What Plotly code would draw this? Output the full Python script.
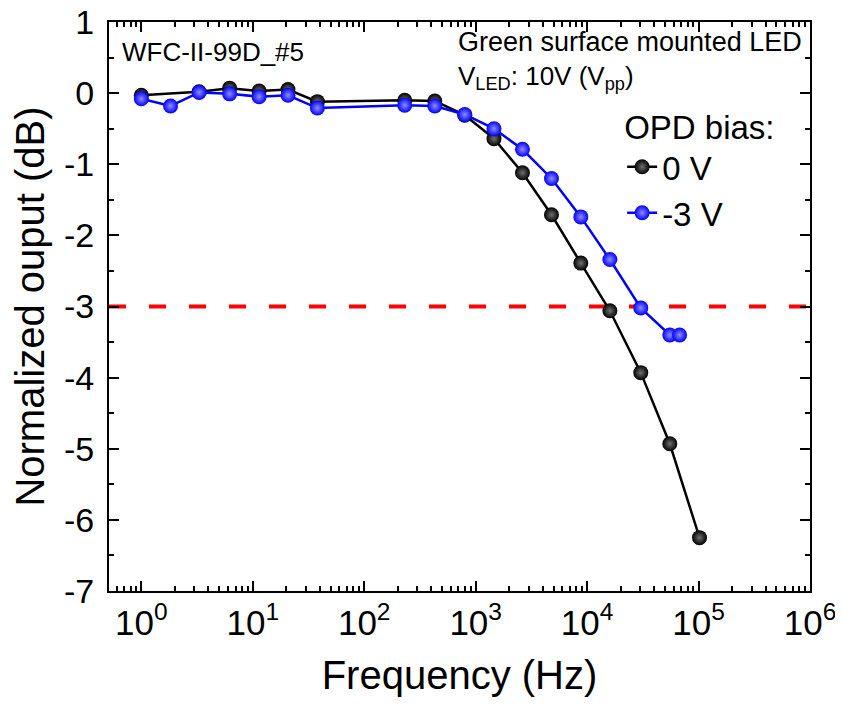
import plotly.graph_objects as go

# ---- data ----
freq_0V = [1.0, 3.3, 6.2, 11.4, 20.7, 38, 231, 430, 798, 1460, 2630, 4790, 8780, 16000, 30300, 55200, 102000]
out_0V = [-0.03, 0.02, 0.07, 0.03, 0.05, -0.12, -0.10, -0.11, -0.31, -0.64, -1.12, -1.71, -2.39, -3.06, -3.93, -4.93, -6.25]

freq_m3V = [1.0, 1.83, 3.3, 6.2, 11.4, 20.7, 38, 231, 430, 798, 1460, 2630, 4790, 8780, 16000, 30300, 55200, 67600]
out_m3V = [-0.08, -0.18, 0.01, -0.01, -0.05, -0.03, -0.21, -0.17, -0.18, -0.30, -0.50, -0.79, -1.20, -1.74, -2.34, -3.02, -3.40, -3.40]

threshold_db = -3

x_tickvals = [1, 10, 100, 1000, 10000, 100000, 1000000]
x_ticktext = ["10<sup>0</sup>", "10<sup>1</sup>", "10<sup>2</sup>", "10<sup>3</sup>",
              "10<sup>4</sup>", "10<sup>5</sup>", "10<sup>6</sup>"]
x_minor = [k * 10 ** n for n in range(-1, 6) for k in range(2, 10)]
y_tickvals = [1, 0, -1, -2, -3, -4, -5, -6, -7]
y_ticktext = ["1", "0", "-1", "-2", "-3", "-4", "-5", "-6", "-7"]

FONT = "Liberation Sans, Arial, sans-serif"

fig = go.Figure()
fig.add_trace(go.Scatter(
    x=freq_0V, y=out_0V, mode="lines+markers", name="0 V",
    line=dict(color="black", width=2.5),
    marker=dict(size=15, color="black", line=dict(width=0),
                gradient=dict(type="radial", color="#707070")),
))
fig.add_trace(go.Scatter(
    x=freq_m3V, y=out_m3V, mode="lines+markers", name="-3 V",
    line=dict(color="#0000ff", width=2.5),
    marker=dict(size=15, color="#0000ff", line=dict(width=0),
                gradient=dict(type="radial", color="#8c8cff")),
))

fig.add_shape(type="line", xref="paper", x0=0, x1=1, yref="y", y0=threshold_db, y1=threshold_db,
              line=dict(color="#ff0000", width=4, dash="17px,23px"), layer="below")

fig.add_annotation(text="WFC-II-99D_#5", xref="paper", yref="paper", x=0.015, y=0.947,
                   xanchor="left", yanchor="middle", showarrow=False,
                   font=dict(size=26, color="black", family=FONT))
fig.add_annotation(text="Green surface mounted LED", xref="paper", yref="paper", x=0.495, y=0.964,
                   xanchor="left", yanchor="middle", showarrow=False,
                   font=dict(size=27, color="black", family=FONT))
fig.add_annotation(text="V<sub>LED</sub>: 10V (V<sub>pp</sub>)", xref="paper", yref="paper",
                   x=0.495, y=0.902, xanchor="left", yanchor="middle", showarrow=False,
                   font=dict(size=26, color="black", family=FONT))

fig.update_layout(
    width=843, height=714,
    margin=dict(l=101, r=41, t=14, b=131),
    paper_bgcolor="white", plot_bgcolor="white",
    font=dict(family=FONT, color="black"),
    showlegend=True,
    legend=dict(
        title=dict(text="OPD bias:", font=dict(size=33, family=FONT)),
        font=dict(size=33, family=FONT),
        x=0.732, y=0.87, xanchor="left", yanchor="top",
        bgcolor="rgba(0,0,0,0)", borderwidth=0,
    ),
    xaxis=dict(
        type="log", range=[-0.29, 6.0], automargin=False,
        tickvals=x_tickvals, ticktext=x_ticktext, ticklabeloverflow="allow",
        ticks="inside", ticklen=10, tickwidth=2, tickcolor="black",
        minor=dict(tickvals=x_minor, ticks="inside", ticklen=5, tickwidth=1.5, tickcolor="black"),
        showline=True, linewidth=2, linecolor="black", mirror="allticks",
        showgrid=False, zeroline=False,
        tickfont=dict(size=35, family=FONT),
        title=dict(text="Frequency (Hz)", font=dict(size=40, family=FONT), standoff=20),
    ),
    yaxis=dict(
        range=[-7, 1], automargin=False,
        tickvals=y_tickvals, ticktext=y_ticktext, ticklabeloverflow="allow",
        ticks="inside", ticklen=10, tickwidth=2, tickcolor="black",
        minor=dict(dtick=0.5, ticks="inside", ticklen=5, tickwidth=1.5, tickcolor="black"),
        showline=True, linewidth=2, linecolor="black", mirror="allticks",
        showgrid=False, zeroline=False,
        ticklabelstandoff=6,
        tickfont=dict(size=34, family=FONT),
        title=dict(text="Normalized ouput (dB)", font=dict(size=40, family=FONT), standoff=15),
    ),
)

fig.write_html("out.html")
